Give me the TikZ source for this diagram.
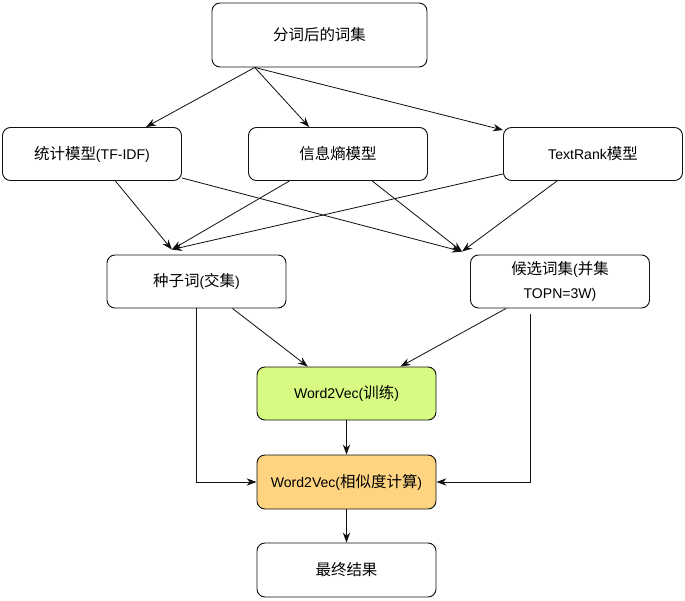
\documentclass[tikz,border=0pt]{standalone}
\usepackage{fontspec}
\setmainfont{Liberation Sans}
\newfontfamily\cjk[Scale=1.1]{Noto Sans CJK SC}
\usetikzlibrary{positioning,arrows.meta,calc}
\definecolor{cgreen}{HTML}{D7FA82}
\definecolor{corange}{HTML}{FED480}
\definecolor{cline}{HTML}{111111}

\begin{document}
\begin{tikzpicture}[font=\fontsize{12}{20}\selectfont,
  box/.style={draw=cline, line width=0.8pt, rounded corners=0.24cm,
    minimum width=5.37cm, minimum height=1.59cm, inner sep=0pt, align=center},
  arr/.style={-{Stealth[length=3mm, width=2.2mm]}, line width=0.7pt, cline}]

\useasboundingbox (0,0) rectangle (20.55,18);

\node[box, minimum width=6.45cm, minimum height=1.92cm] (words) at (9.585,16.95)
  {{\cjk 分词后的词集}};

\node[box] (tfidf) at (2.76,13.38) {{\cjk 统计模型}(TF-IDF)};
\node[box] (entropy) at (10.14,13.38) {{\cjk 信息熵模型}};
\node[box] (textrank) at (17.79,13.38) {TextRank{\cjk 模型}};

\node[box] (seed) at (5.895,9.555) {{\cjk 种子词}({\cjk 交集})};
\node[box] (cand) at (16.8,9.555) {{\cjk 候选词集}({\cjk 并集}\\TOPN=3W)};

\node[box, fill=cgreen] (train) at (10.395,6.195) {Word2Vec({\cjk 训练})};
\node[box, fill=corange, minimum height=1.62cm] (sim) at (10.395,3.54)
  {Word2Vec({\cjk 相似度计算})};
\node[box, minimum height=1.62cm] (result) at (10.395,0.9) {{\cjk 最终结果}};

% word set -> three models
\coordinate (wsrc) at ($(words.south west)!0.2!(words.south east)$);
\draw[arr] (wsrc) -- ($(tfidf.north west)!0.8!(tfidf.north east)$);
\draw[arr] (wsrc) -- ($(entropy.north west)!0.34!(entropy.north east)$);
\draw[arr] (wsrc) -- ($(textrank.north west)+(0,-0.09)$);

% models -> seed / candidates
\coordinate (seedin) at ($(seed.north west)!0.363!(seed.north east)+(0,0.15)$);
\coordinate (candin) at ($(cand.north west)+(-0.24,0.09)$);
\draw[arr] ($(tfidf.south west)!0.63!(tfidf.south east)$) -- (seedin);
\draw[arr] ($(tfidf.south east)+(0,0.09)$) -- (candin);
\draw[arr] ($(entropy.south west)!0.23!(entropy.south east)$) -- (seedin);
\draw[arr] ($(entropy.south west)!0.69!(entropy.south east)$) -- (candin);
\draw[arr] ($(textrank.south west)+(0,0.21)$) -- (seedin);
\draw[arr] ($(textrank.south west)!0.3!(textrank.south east)$) -- (candin);

% seed / candidates -> word2vec
\draw[arr] ($(seed.south west)!0.7!(seed.south east)$)
  -- ($(train.north west)!0.285!(train.north east)$);
\draw[arr] ($(cand.south west)!0.2!(cand.south east)$)
  -- ($(train.north west)!0.8!(train.north east)$);
\draw[arr] (seed.south) |- (sim.west);
\draw[arr] ($(cand.south)+(-0.9,-0.18)$) |- (sim.east);

\draw[arr] (train.south) -- (sim.north);
\draw[arr] (sim.south) -- (result.north);
\end{tikzpicture}
\end{document}
